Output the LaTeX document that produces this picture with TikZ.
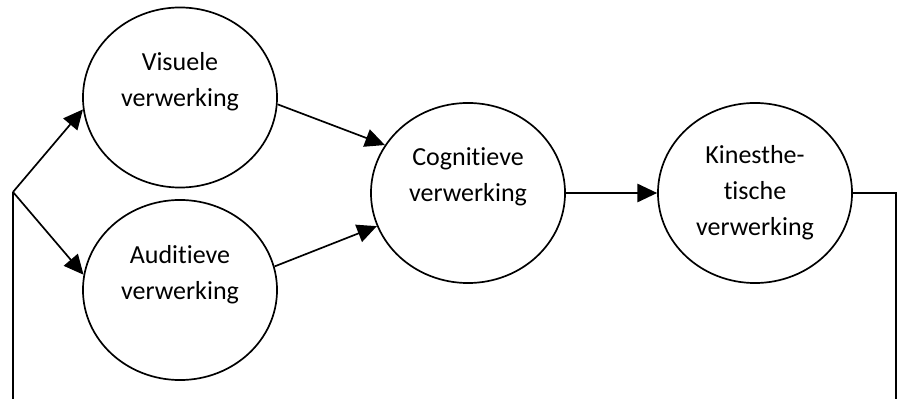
\documentclass[tikz,border=0pt]{standalone}
\usepackage{fontspec}
\setmainfont{Carlito}[Ligatures=NoCommon]
\usetikzlibrary{shapes.geometric, arrows.meta, positioning}

\begin{document}
\begin{tikzpicture}[
  x=0.025cm, y=-0.025cm,
  every node/.style={font=\fontsize{18.5}{25.6}\selectfont},
  blk/.style={ellipse, draw, line width=1.2pt, minimum width=4.85cm,
              minimum height=4.5cm, inner sep=0pt, align=center},
  lnk/.style={line width=1.2pt},
  arr/.style={lnk, -{Triangle[length=14pt,width=13pt]}}
]
\useasboundingbox (0,0) rectangle (901,399);

%% processing stages
\node[blk] (vis) at (180,97.5) {Visuele\\verwerking\\\mbox{}};
\node[blk] (aud) at (180,290)  {Auditieve\\verwerking\\\mbox{}};
\node[blk] (cog) at (468,193)  {Cognitieve\\verwerking\\\mbox{}};
\node[blk] (kin) at (755,193)  {Kinesthe-\\tische\\verwerking};

%% loose ends
\coordinate (lb)   at (13,399);
\coordinate (fork) at (13,192);
\coordinate (rb)   at (896,399);

%% connections
\draw[lnk] (lb) -- (fork);
\draw[arr] (fork) -- (vis.187);
\draw[arr] (fork) -- (aud.171);
\draw[arr] (vis.-4) -- (cog.150);
\draw[arr] (aud.14) -- (cog.200);
\draw[arr] (cog) -- (kin);
\draw[lnk] (kin.east) -| (rb);
\end{tikzpicture}
\end{document}
